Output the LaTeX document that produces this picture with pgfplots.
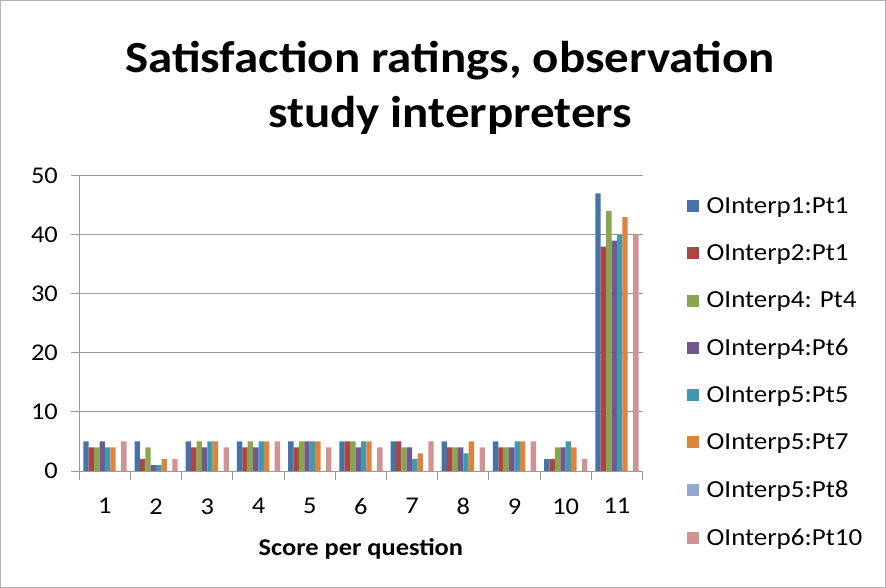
\documentclass[border=0pt]{standalone}
\usepackage{pgfplots}
\pgfplotsset{compat=1.18}
\usepackage{pgfplotstable}
\usepackage{fontspec}
\setmainfont{Carlito}[FakeStretch=1.1]
\definecolor{cA}{HTML}{4572A7}
\definecolor{cB}{HTML}{AA4643}
\definecolor{cC}{HTML}{89A54E}
\definecolor{cD}{HTML}{71588F}
\definecolor{cE}{HTML}{4198AF}
\definecolor{cF}{HTML}{DB843D}
\definecolor{cG}{HTML}{93A9CF}
\definecolor{cH}{HTML}{D19392}
\pgfplotstableread{
q Pt1 Pt2 Pt4 Pt6 Pt5 Pt7 Pt8 Pt10
1 5 4 4 5 4 4 0 5
2 5 2 4 1 1 2 0 2
3 5 4 5 4 5 5 0 4
4 5 4 5 4 5 5 0 5
5 5 4 5 5 5 5 0 4
6 5 5 5 4 5 5 0 4
7 5 5 4 4 2 3 0 5
8 5 4 4 4 3 5 0 4
9 5 4 4 4 5 5 0 5
10 2 2 4 4 5 4 0 2
11 47 38 44 39 40 43 0 40
}\data
\begin{document}
\begin{tikzpicture}
\draw[gray!60, line width=1bp] (0.5bp,0.5bp) rectangle (885.5bp,587.5bp);
\node[font=\fontsize{44.5bp}{55bp}\selectfont\bfseries, align=center] at (450bp,500bp) {Satisfaction ratings, observation\\study interpreters};
\begin{axis}[
  at={(79.3bp,117bp)}, anchor=south west,
  scale only axis, width=563.2bp, height=295.3bp,
  ybar=0pt, bar width=5.4bp,
  xmin=0.5, xmax=11.5, ymin=0, ymax=50,
  axis lines=left, axis line style={-, draw=gray!80, line width=0.9bp},
  xtick={1,...,11}, major x tick style={draw=none},
  minor xtick={0.5,1.5,...,11.5},
  minor x tick style={draw=gray!80, line width=0.9bp},
  minor tick length=9bp,
  ytick={0,10,...,50}, major y tick style={draw=gray!80, line width=0.9bp},
  major tick length=8bp,
  tick align=outside,
  ymajorgrids, grid style={draw=gray!80, line width=0.9bp},
  ticklabel style={font=\fontsize{24bp}{28bp}\selectfont},
  /pgf/number format/assume math mode=true,
  xticklabel style={yshift=-16bp},
  yticklabel style={xshift=-10bp},
  xlabel={\bfseries Score per question},
  xlabel style={font=\fontsize{24bp}{28bp}\selectfont, yshift=-17bp},
  every axis plot/.append style={draw=none},
  legend style={draw=none, at={(1.078,0.933)}, anchor=north west,
    font=\fontsize{24.5bp}{28bp}\selectfont, row sep=25.7bp, inner sep=0pt},
  legend cell align=left,
  legend image code/.code={\fill[#1] (0bp,-6bp) rectangle (12bp,6bp); \path (18bp,0bp);},
]
\addplot[fill=cA] table[x=q,y=Pt1]{\data};
\addplot[fill=cB] table[x=q,y=Pt2]{\data};
\addplot[fill=cC] table[x=q,y=Pt4]{\data};
\addplot[fill=cD] table[x=q,y=Pt6]{\data};
\addplot[fill=cE] table[x=q,y=Pt5]{\data};
\addplot[fill=cF] table[x=q,y=Pt7]{\data};
\addplot[fill=cG] table[x=q,y=Pt8]{\data};
\addplot[fill=cH] table[x=q,y=Pt10]{\data};
\legend{OInterp1:Pt1,OInterp2:Pt1,OInterp4: Pt4,OInterp4:Pt6,OInterp5:Pt5,OInterp5:Pt7,OInterp5:Pt8,OInterp6:Pt10}
\end{axis}
\end{tikzpicture}
\end{document}
